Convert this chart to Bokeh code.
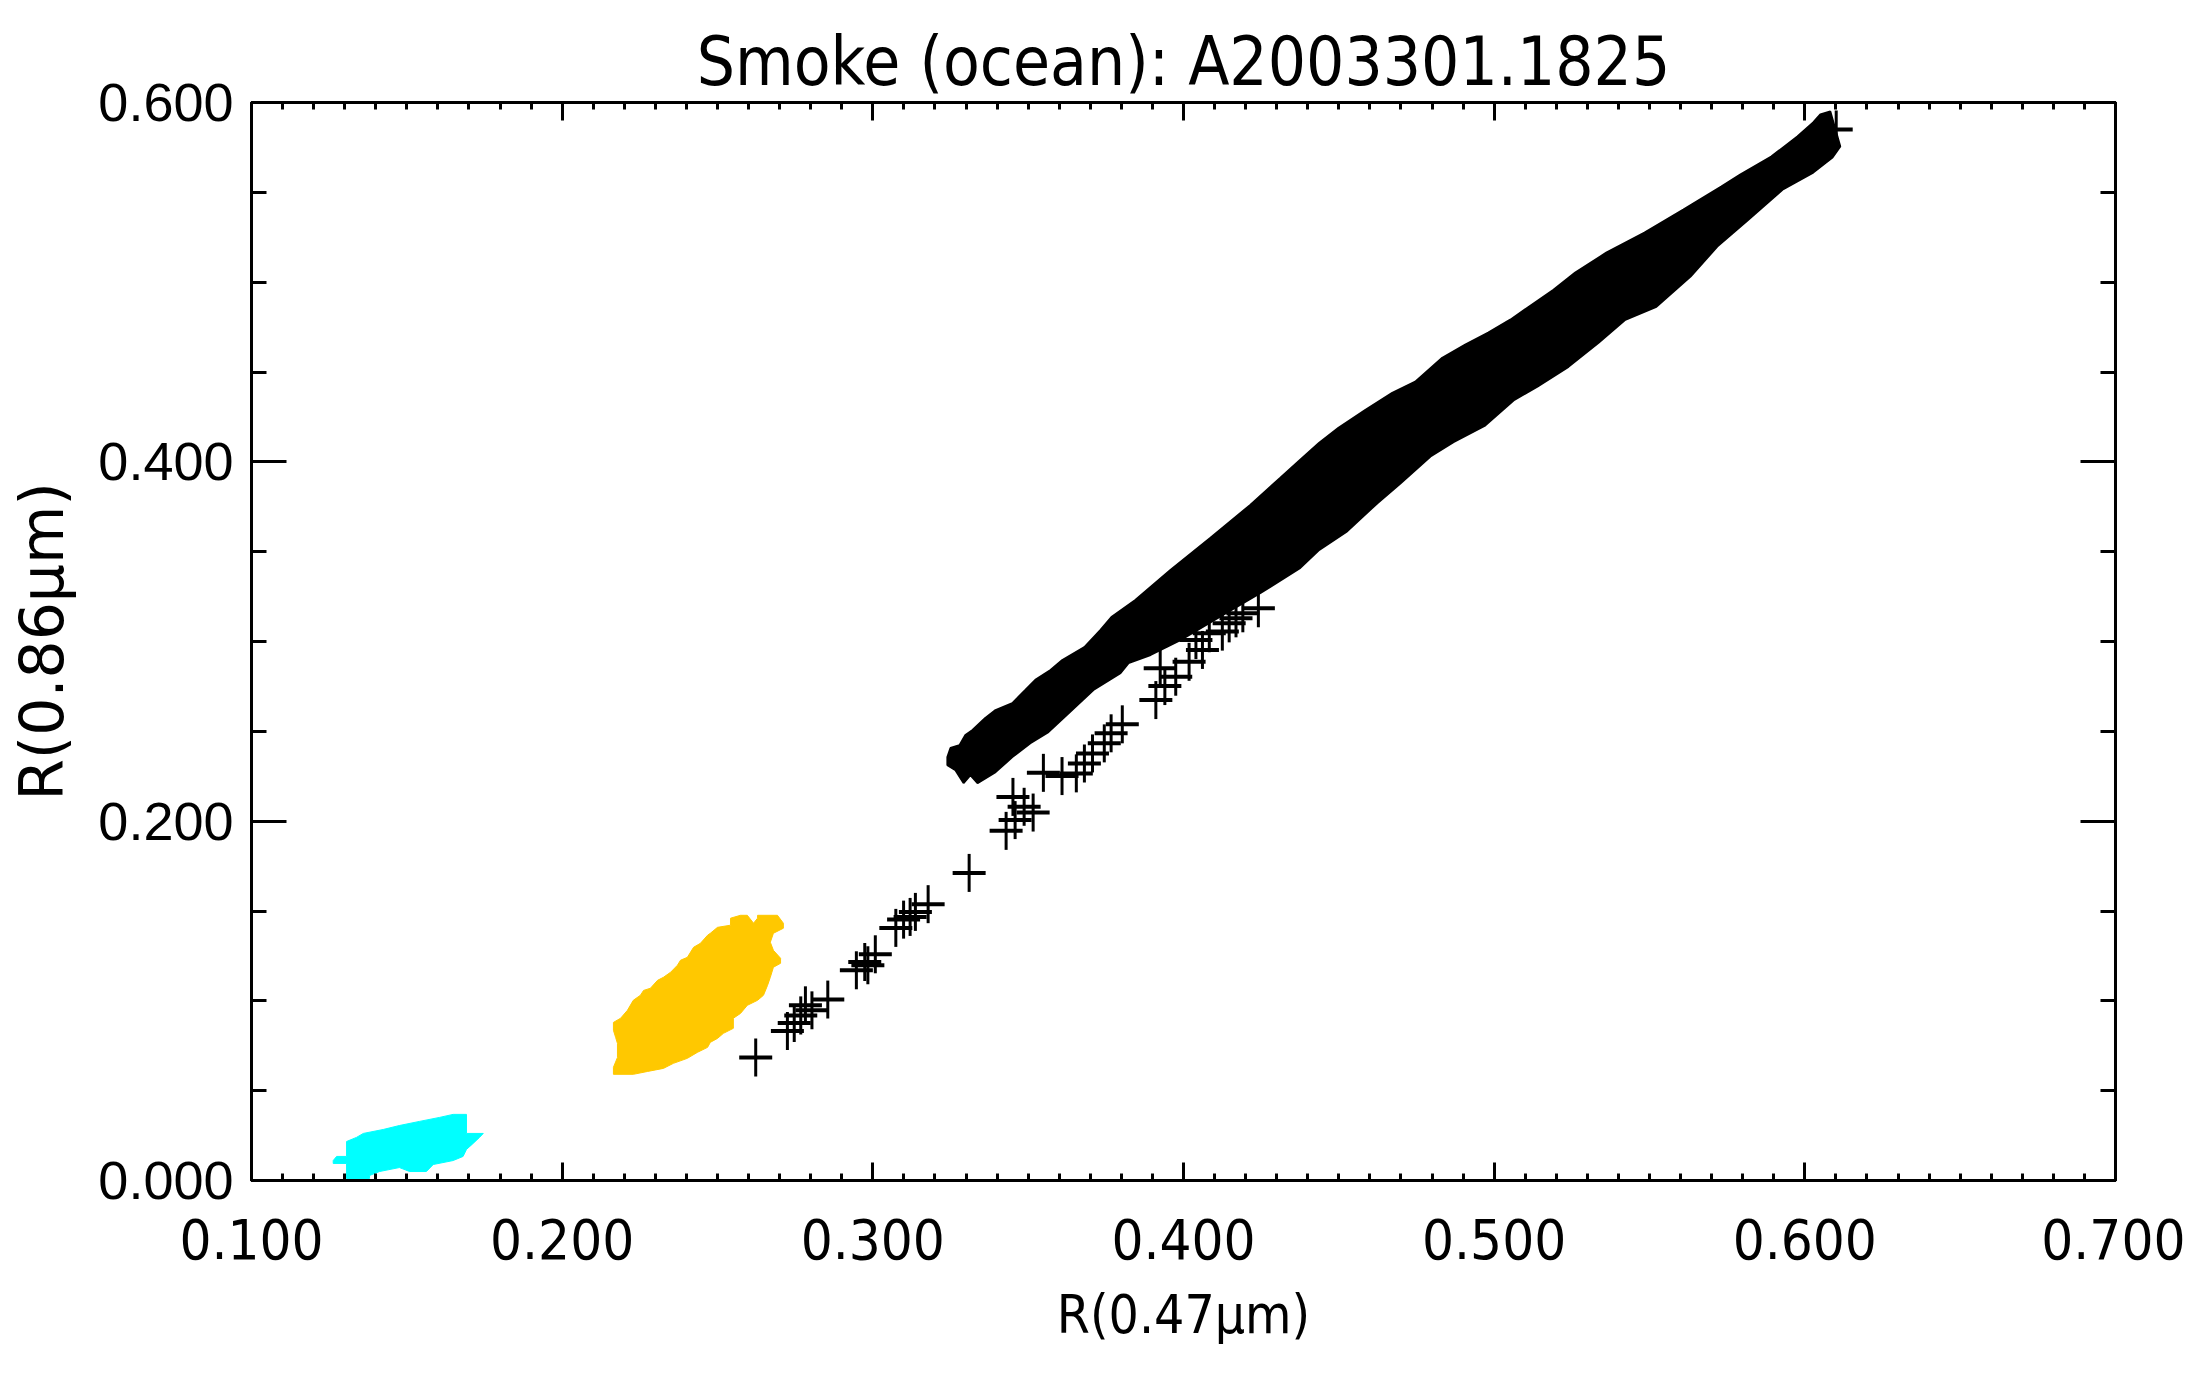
from bokeh.plotting import figure
from bokeh.models import LinearAxis, FixedTicker, Range1d, CustomJSTickFormatter, ColumnDataSource
from bokeh.embed import file_html
from bokeh.resources import INLINE

# ---------------- data ----------------
title_text = "Smoke (ocean): A2003301.1825"
x_label = "R(0.47\u03bcm)"
y_label = "R(0.86\u03bcm)"

x_major = [0.1, 0.2, 0.3, 0.4, 0.5, 0.6, 0.7]
x_tick_labels = ["0.100", "0.200", "0.300", "0.400", "0.500", "0.600", "0.700"]
y_major = [0.0, 0.2, 0.4, 0.6]
y_tick_labels = ["0.000", "0.200", "0.400", "0.600"]

# cyan cloud (outline of the dense cluster)
cyan_x = [0.1263, 0.1263, 0.1306, 0.1306, 0.1380, 0.1380, 0.1412, 0.1476, 0.1509, 0.1563,
          0.1585, 0.1649, 0.1681, 0.1692, 0.1710, 0.1734, 0.1746, 0.1692, 0.1692, 0.1649,
          0.1605, 0.1541, 0.1476, 0.1424, 0.1360, 0.1338, 0.1306, 0.1306, 0.1274]
cyan_y = [0.0111, 0.0095, 0.0095, 0.0011, 0.0011, 0.0028, 0.0050, 0.0072, 0.0050, 0.0050,
          0.0089, 0.0111, 0.0134, 0.0173, 0.0201, 0.0240, 0.0262, 0.0262, 0.0368, 0.0368,
          0.0351, 0.0329, 0.0306, 0.0284, 0.0262, 0.0240, 0.0217, 0.0134, 0.0134]

# gold cloud (outline of the dense cluster)
gold_x = [0.2629, 0.2693, 0.2712, 0.2712, 0.2680, 0.2670, 0.2680, 0.2703, 0.2703, 0.2680,
          0.2670, 0.2661, 0.2648, 0.2629, 0.2596, 0.2574, 0.2551, 0.2551, 0.2519, 0.2500,
          0.2477, 0.2468, 0.2435, 0.2403, 0.2358, 0.2326, 0.2275, 0.2229, 0.2165, 0.2165,
          0.2178, 0.2178, 0.2172, 0.2165, 0.2165, 0.2188, 0.2210, 0.2229, 0.2252, 0.2262,
          0.2284, 0.2307, 0.2326, 0.2349, 0.2371, 0.2381, 0.2403, 0.2423, 0.2445, 0.2468,
          0.2477, 0.2500, 0.2542, 0.2542, 0.2574, 0.2596, 0.2616, 0.2629]
gold_y = [0.1476, 0.1476, 0.1432, 0.1404, 0.1376, 0.1326, 0.1281, 0.1237, 0.1209, 0.1187,
          0.1131, 0.1086, 0.1031, 0.1003, 0.0975, 0.0930, 0.0903, 0.0847, 0.0819, 0.0791,
          0.0769, 0.0741, 0.0713, 0.0680, 0.0652, 0.0624, 0.0607, 0.0591, 0.0591, 0.0630,
          0.0685, 0.0763, 0.0797, 0.0836, 0.0880, 0.0903, 0.0947, 0.1003, 0.1031, 0.1058,
          0.1070, 0.1114, 0.1131, 0.1159, 0.1198, 0.1226, 0.1242, 0.1298, 0.1320, 0.1365,
          0.1376, 0.1409, 0.1421, 0.1460, 0.1476, 0.1476, 0.1432, 0.1460]

# black band of overlapping '+' symbols (outline of the solid part)
band_x = [0.3240, 0.3250, 0.3279, 0.3298, 0.3321, 0.3362, 0.3395, 0.3449, 0.3491, 0.3523,
          0.3572, 0.3610, 0.3681, 0.3733, 0.3768, 0.3845, 0.3958, 0.4087, 0.4215, 0.4312,
          0.4376, 0.4437, 0.4499, 0.4586, 0.4672, 0.4746, 0.4833, 0.4907, 0.4981, 0.5052,
          0.5191, 0.5261, 0.5361, 0.5484, 0.5609, 0.5731, 0.5792, 0.5892, 0.5976, 0.6027,
          0.6050, 0.6082,
          0.6114, 0.6089, 0.6027, 0.5928, 0.5818, 0.5718, 0.5632, 0.5522, 0.5422, 0.5336,
          0.5239, 0.5139, 0.5065, 0.4969, 0.4869, 0.4795, 0.4698, 0.4624, 0.4524, 0.4437,
          0.4376, 0.4248, 0.4119, 0.3990, 0.3894, 0.3823, 0.3797, 0.3710, 0.3623, 0.3565,
          0.3507, 0.3449, 0.3395, 0.3337, 0.3314, 0.3292, 0.3266, 0.3240]
band_y = [0.2357, 0.2407, 0.2423, 0.2479, 0.2507, 0.2574, 0.2618, 0.2657, 0.2730, 0.2786,
          0.2841, 0.2897, 0.2969, 0.3064, 0.3136, 0.3231, 0.3398, 0.3577, 0.3760, 0.3911,
          0.4011, 0.4106, 0.4189, 0.4290, 0.4384, 0.4446, 0.4579, 0.4652, 0.4719, 0.4791,
          0.4958, 0.5053, 0.5164, 0.5276, 0.5404, 0.5532, 0.5599, 0.5699, 0.5811, 0.5889,
          0.5933, 0.5950,
          0.5755, 0.5694, 0.5610, 0.5515, 0.5348, 0.5198, 0.5031, 0.4863, 0.4791, 0.4663,
          0.4529, 0.4418, 0.4345, 0.4200, 0.4110, 0.4030, 0.3880, 0.3770, 0.3610, 0.3510,
          0.3410, 0.3270, 0.3140, 0.3008, 0.2925, 0.2880, 0.2824, 0.2730, 0.2590, 0.2496,
          0.2434, 0.2357, 0.2273, 0.2212, 0.2256, 0.2212, 0.2284, 0.2312]

# individual '+' symbols outside the solid band
plus_x = [0.2623, 0.2725, 0.2747, 0.2768, 0.2783, 0.2804, 0.2855, 0.2947, 0.2974, 0.2984,
          0.3008, 0.3074, 0.3099, 0.3120, 0.3137, 0.3178, 0.3310, 0.3429, 0.3451, 0.3458,
          0.3487, 0.3516, 0.3549, 0.3609, 0.3655, 0.3681, 0.3707, 0.3745, 0.3767, 0.3803,
          0.3911, 0.3940, 0.3975, 0.3925, 0.4018, 0.4061, 0.4040, 0.4083, 0.4125, 0.4169,
          0.4241, 0.4147, 0.4191, 0.6101]
plus_y = [0.0684, 0.0832, 0.0876, 0.0919, 0.0975, 0.0947, 0.1007, 0.1170, 0.1216, 0.1198,
          0.1259, 0.1406, 0.1452, 0.1467, 0.1495, 0.1538, 0.1712, 0.1946, 0.2135, 0.2006,
          0.2080, 0.2048, 0.2269, 0.2251, 0.2266, 0.2321, 0.2377, 0.2433, 0.2489, 0.2539,
          0.2674, 0.2752, 0.2804, 0.2851, 0.2887, 0.2953, 0.3008, 0.3046, 0.3055, 0.3129,
          0.3185, 0.3101, 0.3157, 0.5850]

# ---------------- figure ----------------
NARROW = "DejaVu Sans Condensed"

p = figure(width=2185, height=1375,
           x_range=Range1d(0.1, 0.7), y_range=Range1d(0.0, 0.6),
           output_backend="svg", toolbar_location=None,
           min_border_left=251, min_border_right=70,
           min_border_top=102, min_border_bottom=195)
p.xgrid.visible = False
p.ygrid.visible = False
p.background_fill_color = "white"
p.border_fill_color = "white"
p.outline_line_color = "black"
p.outline_line_width = 3

p.title.text = title_text
p.title.text_font = NARROW
p.title.text_font_size = "67px"
p.title.text_font_style = "normal"
p.title.align = "center"
p.title.vertical_align = "top"
p.title.standoff = 0
p.title.text_color = "black"

x_minor = [round(0.1 + 0.01 * i, 2) for i in range(61)]
y_minor = [round(0.05 * i, 2) for i in range(13)]


def style_axis(ax, ticks, minor, tin, minor_in):
    ax.ticker = FixedTicker(ticks=ticks, minor_ticks=minor)
    ax.axis_line_width = 3
    ax.axis_line_color = "black"
    ax.major_tick_line_width = 3
    ax.minor_tick_line_width = 3
    ax.major_tick_line_color = "black"
    ax.minor_tick_line_color = "black"
    ax.major_tick_in = tin
    ax.major_tick_out = 0
    ax.minor_tick_in = minor_in
    ax.minor_tick_out = 0
    ax.major_label_text_color = "black"
    ax.axis_label_text_color = "black"


xb = p.xaxis[0]
style_axis(xb, x_major, x_minor, 18, 7)
xb.major_label_overrides = {v: s for v, s in zip(x_major, x_tick_labels)}
xb.major_label_text_font = NARROW
xb.major_label_text_font_size = "56px"
xb.major_label_standoff = 38
xb.axis_label = x_label
xb.axis_label_text_font = NARROW
xb.axis_label_text_font_size = "53px"
xb.axis_label_text_font_style = "normal"
xb.axis_label_standoff = 22

yl = p.yaxis[0]
style_axis(yl, y_major, y_minor, 35, 15)
yl.major_label_overrides = {v: s for v, s in zip(y_major, y_tick_labels)}
yl.major_label_text_font = "Liberation Sans"
yl.major_label_text_font_size = "54px"
yl.major_label_standoff = 18
yl.axis_label = y_label
yl.axis_label_text_font = "DejaVu Sans"
yl.axis_label_text_font_size = "60px"
yl.axis_label_text_font_style = "normal"
yl.axis_label_standoff = 18

blank = CustomJSTickFormatter(code="return ''")
xt = LinearAxis(formatter=blank, major_label_standoff=0, axis_label_standoff=0,
                major_label_text_font_size="0px")
style_axis(xt, x_major, x_minor, 18, 7)
p.add_layout(xt, "above")
yr = LinearAxis(formatter=blank, major_label_standoff=0, axis_label_standoff=0,
                major_label_text_font_size="0px")
style_axis(yr, y_major, y_minor, 35, 15)
p.add_layout(yr, "right")

# ---------------- marks ----------------
p.patch(cyan_x, cyan_y, fill_color="#00FFFF", line_color="#00FFFF", line_width=1)
p.patch(gold_x, gold_y, fill_color="#FFC800", line_color="#FFC800", line_width=1)
p.patch(band_x, band_y, fill_color="black", line_color="black", line_width=2)

src = ColumnDataSource(data=dict(x=plus_x, y=plus_y))
p.rect(x="x", y="y", width=33, height=4, width_units="screen", height_units="screen",
       source=src, fill_color="black", line_color=None)
p.rect(x="x", y="y", width=3, height=38, width_units="screen", height_units="screen",
       source=src, fill_color="black", line_color=None)

open("out.html", "w").write(file_html(p, INLINE))
